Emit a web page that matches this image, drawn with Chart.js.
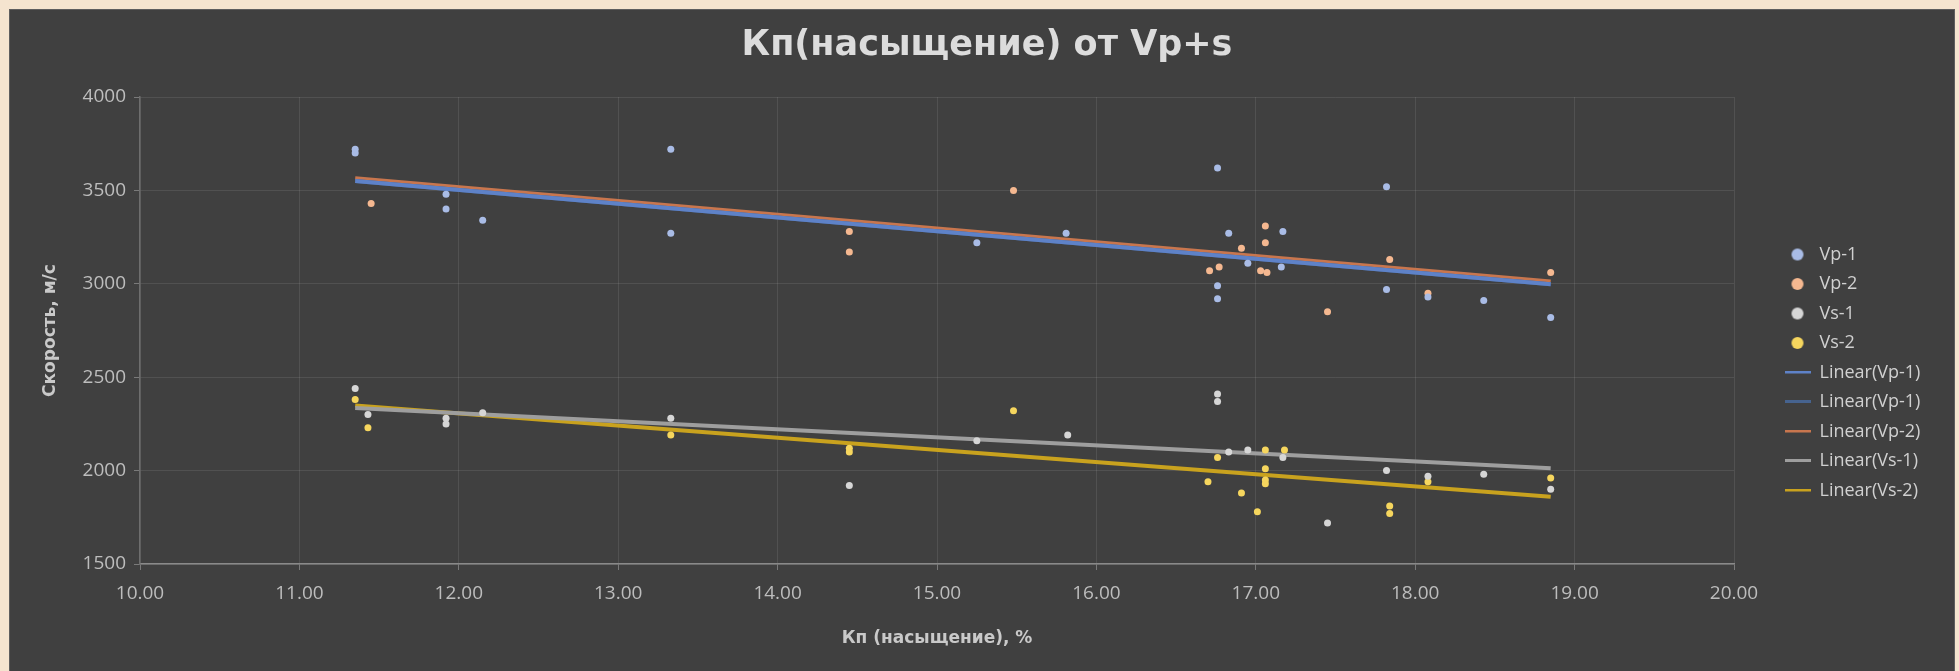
<!DOCTYPE html>
<html lang="ru">
<head>
<meta charset="utf-8">
<title>Кп(насыщение) от Vp+s</title>
<script src="https://cdn.jsdelivr.net/npm/chart.js@4.4.1/dist/chart.umd.min.js"></script>
<style>
  html, body { margin: 0; padding: 0; background: #f5e4cf; width: 1959px; height: 671px; overflow: hidden; }
  #panel { position: absolute; left: 9px; top: 9px; width: 1946px; height: 672px; background: #404040; border: 1px solid #5e5e5e; box-sizing: border-box; }
  #wrap { position: absolute; left: 10px; top: 10px; width: 1944px; height: 661px; }
</style>
</head>
<body>
<div id="panel"></div>
<div id="wrap"><canvas id="chart"></canvas></div>
<script>
// Kp (saturation, %) on x, velocity (m/s) on y
const vp1X = [11.35, 11.35, 11.92, 11.92, 12.15, 13.33, 13.33, 15.25, 15.81, 16.76, 16.76, 16.76, 16.83, 16.95, 17.16, 17.17, 17.82, 17.82, 18.08, 18.43, 18.85];
const vp1Y = [3720, 3700, 3480, 3400, 3340, 3720, 3270, 3220, 3270, 3620, 2990, 2920, 3270, 3110, 3090, 3280, 3520, 2970, 2930, 2910, 2820];

const vp2X = [11.45, 14.45, 14.45, 15.48, 16.71, 16.77, 16.91, 17.03, 17.06, 17.06, 17.07, 17.45, 17.84, 18.08, 18.85];
const vp2Y = [3430, 3280, 3170, 3500, 3070, 3090, 3190, 3070, 3310, 3220, 3060, 2850, 3130, 2950, 3060];

const vs1X = [11.35, 11.43, 11.92, 11.92, 12.15, 13.33, 14.45, 15.25, 15.82, 16.76, 16.76, 16.83, 16.95, 17.17, 17.45, 17.82, 18.08, 18.43, 18.85];
const vs1Y = [2440, 2300, 2280, 2250, 2310, 2280, 1920, 2160, 2190, 2410, 2370, 2100, 2110, 2070, 1720, 2000, 1970, 1980, 1900];

const vs2X = [11.35, 11.43, 13.33, 14.45, 14.45, 15.48, 16.70, 16.76, 16.91, 17.01, 17.06, 17.06, 17.06, 17.06, 17.18, 17.84, 17.84, 18.08, 18.85];
const vs2Y = [2380, 2230, 2190, 2120, 2100, 2320, 1940, 2070, 1880, 1780, 2110, 2010, 1950, 1930, 2110, 1810, 1770, 1940, 1960];

// trend line end points
const trendX = [11.35, 18.85];
const trendVp1 = [3550, 2998];
const trendVp2 = [3565, 3012];
const trendVs1 = [2335, 2012];
const trendVs2 = [2348, 1860];

const seriesNames = ["Vp-1", "Vp-2", "Vs-1", "Vs-2"];
const trendNames = ["Linear(Vp-1)", "Linear(Vp-1)", "Linear(Vp-2)", "Linear(Vs-1)", "Linear(Vs-2)"];

const pointColors = ["#a9bce6", "#f5b890", "#d6d6d6", "#f6d65e"];
const trendColors = ["#5e82c8", "#46638f", "#c8764e", "#9e9e9e", "#c9a21e"];

function zip(xs, ys) {
  return xs.map((x, i) => ({ x: x, y: ys[i] }));
}

// small canvases used as legend symbols
function dotIcon(color) {
  const c = document.createElement("canvas");
  c.width = 14;
  c.height = 14;
  const g = c.getContext("2d");
  g.fillStyle = color;
  g.beginPath();
  g.arc(7, 7, 6, 0, Math.PI * 2);
  g.fill();
  return c;
}

function dashIcon(color) {
  const c = document.createElement("canvas");
  c.width = 26;
  c.height = 4;
  const g = c.getContext("2d");
  g.fillStyle = color;
  g.fillRect(0, 0, 26, 3);
  return c;
}

const scatterSets = [
  zip(vp1X, vp1Y),
  zip(vp2X, vp2Y),
  zip(vs1X, vs1Y),
  zip(vs2X, vs2Y),
].map((pts, i) => ({
  type: "scatter",
  label: seriesNames[i],
  data: pts,
  backgroundColor: pointColors[i],
  borderColor: pointColors[i],
  borderWidth: 0,
  pointRadius: 3.5,
  legendIcon: dotIcon(pointColors[i]),
}));

const trendSets = [trendVp1, trendVp1, trendVp2, trendVs1, trendVs2].map((ys, i) => ({
  type: "line",
  label: trendNames[i],
  data: zip(trendX, ys),
  borderColor: trendColors[i],
  backgroundColor: trendColors[i],
  borderWidth: 4,
  pointRadius: 0,
  fill: false,
  legendIcon: dashIcon(trendColors[i]),
}));

// legend to the right of the plot, title centred on the whole panel
const placeBoxes = {
  id: "placeBoxes",
  afterLayout(chart) {
    const lg = chart.legend;
    lg.left = 1763;
    lg.top = 224;
    lg.right = 1944;
    lg.bottom = 661;
    lg.width = lg.right - lg.left;
    lg.height = lg.bottom - lg.top;

    const t = chart.titleBlock;
    t.left = 10;
    t.right = 1944;
    t.width = t.right - t.left;
  },
};

Chart.defaults.font.family = "'Open Sans', 'DejaVu Sans', sans-serif";

const gridColor = "rgba(255,255,255,0.09)";
const boldFont = "'DejaVu Sans', 'Open Sans', sans-serif";

new Chart(document.getElementById("chart"), {
  data: { datasets: scatterSets.concat(trendSets) },
  plugins: [placeBoxes],
  options: {
    responsive: true,
    maintainAspectRatio: false,
    animation: false,
    devicePixelRatio: 1,
    layout: { padding: { top: 15, right: 220, bottom: 0, left: 0 } },
    plugins: {
      title: {
        display: true,
        text: "Кп(насыщение) от Vp+s",
        color: "#dcdcdc",
        font: { family: boldFont, size: 35, weight: "bold" },
        padding: { top: 0, bottom: 30 },
      },
      legend: {
        position: "chartArea",
        align: "start",
        labels: {
          color: "#d0d0d0",
          font: { size: 18 },
          usePointStyle: true,
          pointStyleWidth: 26,
          padding: 11.5,
          generateLabels(chart) {
            const items = Chart.defaults.plugins.legend.labels.generateLabels(chart);
            items.forEach((item) => {
              item.pointStyle = chart.data.datasets[item.datasetIndex].legendIcon;
            });
            return items;
          },
        },
      },
      tooltip: { enabled: false },
    },
    scales: {
      x: {
        type: "linear",
        position: "bottom",
        min: 10,
        max: 20,
        afterFit(scale) {
          scale.height = 107;
        },
        ticks: {
          stepSize: 1,
          color: "#bdbdbd",
          font: { size: 19 },
          padding: 12,
          callback: (v) => Number(v).toFixed(2),
        },
        grid: { color: gridColor, tickColor: "#7a7a7a", tickLength: 6 },
        border: { color: "#8a8a8a", width: 1.5 },
        title: {
          display: true,
          text: "Кп (насыщение), %",
          color: "#c9c9c9",
          font: { family: boldFont, size: 17, weight: "bold" },
          padding: { top: 0, bottom: 22 },
        },
      },
      y: {
        type: "linear",
        min: 1500,
        max: 4000,
        afterFit(scale) {
          scale.width = 130;
        },
        ticks: {
          stepSize: 500,
          color: "#bdbdbd",
          font: { size: 19 },
          padding: 8,
          callback: (v) => String(v),
        },
        grid: { color: gridColor, tickColor: "#7a7a7a", tickLength: 6 },
        border: { color: "#6e6e6e", width: 1.5 },
        title: {
          display: true,
          text: "Скорость, м/с",
          color: "#c9c9c9",
          font: { family: boldFont, size: 17, weight: "bold" },
          padding: { top: 30, bottom: 0 },
        },
      },
    },
  },
});
</script>
</body>
</html>
